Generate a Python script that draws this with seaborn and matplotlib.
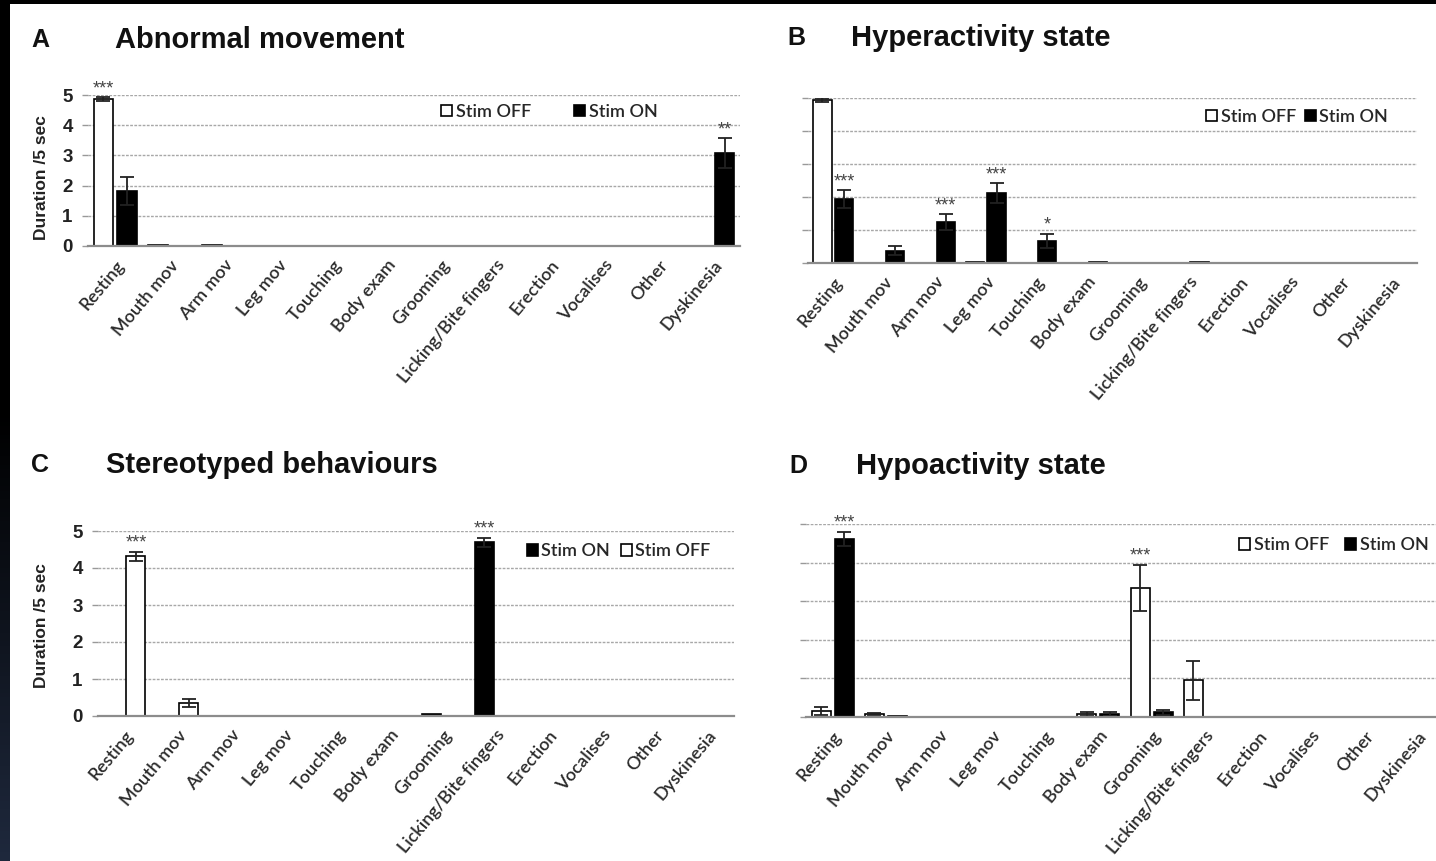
import numpy as np
import pandas as pd
import matplotlib
matplotlib.use("Agg")
import matplotlib.pyplot as plt
import seaborn as sns

sns.set_theme(style="white")
plt.rcParams["font.family"] = ["Liberation Sans", "DejaVu Sans"]

categories = ["Resting", "Mouth mov", "Arm mov", "Leg mov", "Touching", "Body exam",
              "Grooming", "Licking/Bite fingers", "Erection", "Vocalises", "Other", "Dyskinesia"]

# Panel A - Abnormal movement
a_off = [4.87, 0.03, 0.03, 0, 0, 0, 0, 0, 0, 0, 0, 0]
a_off_err = [0.06, 0, 0, 0, 0, 0, 0, 0, 0, 0, 0, 0]
a_on = [1.82, 0, 0, 0, 0, 0, 0, 0, 0, 0, 0, 3.07]
a_on_err = [0.45, 0, 0, 0, 0, 0, 0, 0, 0, 0, 0, 0.5]

# Panel B - Hyperactivity state
b_off = [4.93, 0, 0, 0.02, 0, 0, 0, 0, 0, 0, 0, 0]
b_off_err = [0.06, 0, 0, 0, 0, 0, 0, 0, 0, 0, 0, 0]
b_on = [1.93, 0.37, 1.24, 2.12, 0.67, 0.02, 0, 0.02, 0, 0, 0, 0]
b_on_err = [0.27, 0.14, 0.24, 0.3, 0.21, 0, 0, 0, 0, 0, 0, 0]

# Panel C - Stereotyped behaviours
c_off = [4.32, 0.35, 0, 0, 0, 0, 0, 0, 0, 0, 0, 0]
c_off_err = [0.12, 0.1, 0, 0, 0, 0, 0, 0, 0, 0, 0, 0]
c_on = [0, 0, 0, 0, 0, 0, 0.06, 4.7, 0, 0, 0, 0]
c_on_err = [0, 0, 0, 0, 0, 0, 0, 0.12, 0, 0, 0, 0]

# Panel D - Hypoactivity state
d_off = [0.15, 0.07, 0, 0, 0, 0.08, 3.35, 0.95, 0, 0, 0, 0]
d_off_err = [0.1, 0.03, 0, 0, 0, 0.05, 0.6, 0.5, 0, 0, 0, 0]
d_on = [4.62, 0.02, 0, 0, 0, 0.08, 0.12, 0, 0, 0, 0, 0]
d_on_err = [0.18, 0, 0, 0, 0, 0.05, 0.06, 0, 0, 0, 0, 0]

a_stars = [("Resting", "Stim OFF", "***"), ("Dyskinesia", "Stim ON", "**")]
b_stars = [("Resting", "Stim ON", "***"), ("Arm mov", "Stim ON", "***"),
           ("Leg mov", "Stim ON", "***"), ("Touching", "Stim ON", "*")]
c_stars = [("Resting", "Stim OFF", "***"), ("Licking/Bite fingers", "Stim ON", "***")]
d_stars = [("Resting", "Stim ON", "***"), ("Grooming", "Stim OFF", "***")]

W, H = 1436, 861
fig = plt.figure(figsize=(W / 100, H / 100), dpi=100)
fig.patch.set_facecolor("white")

def px_rect(l, t, r, b):
    return [l / W, 1 - b / H, (r - l) / W, (b - t) / H]

palette = {"Stim OFF": "white", "Stim ON": "black"}
tick_font = ["Lato", "DejaVu Sans"]

def panel(rect, off, off_err, on, on_err, stars, hue_order, letter, title,
          letter_xy, title_x, ylab, ylab_xy, leg_anchor, colspace, xmax=11.5):
    ax = fig.add_axes(px_rect(*rect))
    df = pd.DataFrame({
        "category": categories * 2,
        "stim": ["Stim OFF"] * len(categories) + ["Stim ON"] * len(categories),
        "value": list(off) + list(on),
    })
    errs = {"Stim OFF": off_err, "Stim ON": on_err}
    sns.barplot(data=df, x="category", y="value", hue="stim", hue_order=hue_order,
                palette=palette, edgecolor="black", linewidth=1.2, width=0.86, gap=0.17,
                errorbar=None, ax=ax, zorder=3)
    handles, labels = ax.get_legend_handles_labels()
    if ax.get_legend() is not None:
        ax.get_legend().remove()
    tops = {}
    for level, cont in zip(hue_order, ax.containers):
        xs, hs, es = [], [], []
        for cat, bar, e in zip(categories, cont, errs[level]):
            x = bar.get_x() + bar.get_width() / 2
            h = bar.get_height()
            tops[(cat, level)] = (x, h + e)
            if e > 0:
                xs.append(x); hs.append(h); es.append(e)
        if xs:
            ax.errorbar(xs, hs, yerr=es, fmt="none", ecolor="#222222", elinewidth=1.3,
                        capsize=5, capthick=1.3, zorder=4)
    for cat, level, txt in stars:
        x, y = tops[(cat, level)]
        ax.annotate(txt, (x, y), xytext=(0, 0), textcoords="offset points",
                    ha="center", va="bottom", fontsize=13, color="#444444",
                    annotation_clip=False)
    ax.set_ylim(0, 5)
    ax.set_xlim(-0.5, xmax)
    ax.set_yticks(range(6))
    ax.yaxis.grid(True, linestyle=(0, (2, 1)), color="#a8a8a8", linewidth=1.0)
    ax.xaxis.grid(False)
    ax.set_axisbelow(True)
    for s in ["top", "right", "left"]:
        ax.spines[s].set_visible(False)
    ax.spines["bottom"].set_color("#8c8c8c")
    ax.spines["bottom"].set_linewidth(1.6)
    ax.spines["bottom"].set_zorder(5)
    ax.tick_params(axis="y", length=4, color="#999999", width=1, pad=7, direction="out", left=True)
    ax.tick_params(axis="x", length=0, pad=8)
    ax.set_xlabel("")
    if ylab:
        ax.set_yticklabels([str(i) for i in range(6)], fontsize=13.5, fontweight="bold", color="#222222")
        ax.set_ylabel("Duration /5 sec", fontsize=12.5, fontweight="bold", color="#222222")
        ax.yaxis.set_label_coords(*ylab_xy)
    else:
        ax.set_yticklabels([])
        ax.set_ylabel("")
    ax.set_xticks(range(len(categories)))
    ax.set_xticklabels(categories, rotation=50, ha="right", rotation_mode="anchor",
                       fontsize=13, fontweight="semibold", color="#2a2a2a", family=tick_font)
    ax.legend(handles, labels, ncol=2, frameon=False, loc="center left",
              bbox_to_anchor=leg_anchor, handlelength=0.6, handleheight=0.6,
              handletextpad=0.2, columnspacing=colspace, borderaxespad=0,
              prop={"family": tick_font, "size": 13, "weight": "semibold"})
    fig.text(letter_xy[0] / W, 1 - letter_xy[1] / H, letter, fontsize=18, fontweight="bold",
             ha="center", va="center", color="#111111")
    fig.text(title_x / W, 1 - letter_xy[1] / H, title, fontsize=21, fontweight="bold",
             ha="left", va="center", color="#111111")
    return ax

panel((88, 95, 740, 246), a_off, a_off_err, a_on, a_on_err, a_stars,
      ["Stim OFF", "Stim ON"], "A", "Abnormal movement", (40, 40), 115,
      True, (-0.060, 0.45), (0.531, 0.89), 2.4)
panel((808, 98, 1417, 263), b_off, b_off_err, b_on, b_on_err, b_stars,
      ["Stim OFF", "Stim ON"], "B", "Hyperactivity state", (796, 38), 851,
      False, None, (0.642, 0.885), 0.5)
panel((98, 531, 734, 716), c_off, c_off_err, c_on, c_on_err, c_stars,
      ["Stim ON", "Stim OFF"], "C", "Stereotyped behaviours", (40, 465), 106,
      True, (-0.077, 0.49), (0.663, 0.89), 0.6)
panel((806, 524, 1444, 717), d_off, d_off_err, d_on, d_on_err, d_stars,
      ["Stim OFF", "Stim ON"], "D", "Hypoactivity state", (798, 466), 856,
      False, None, (0.668, 0.89), 0.9)

# screenshot border decoration
top = fig.add_axes([0, 1 - 4 / H, 1, 4 / H])
top.set_axis_off()
top.add_patch(plt.Rectangle((0, 0), 1, 1, transform=top.transAxes, color="black"))
side = fig.add_axes([0, 0, 10 / W, 1])
side.set_axis_off()
grad = np.ones((200, 1, 3))
col_top = np.array([0, 0, 0]); col_bot = np.array([0.12, 0.16, 0.24])
for i in range(200):
    f = max(0.0, (i - 95) / 105)
    grad[i, 0] = col_top * (1 - f) + col_bot * f
side.imshow(grad, aspect="auto", extent=(0, 1, 0, 1), origin="upper")
side.set_xlim(0, 1); side.set_ylim(0, 1)

fig.savefig("out.png", dpi=100, facecolor="white")
